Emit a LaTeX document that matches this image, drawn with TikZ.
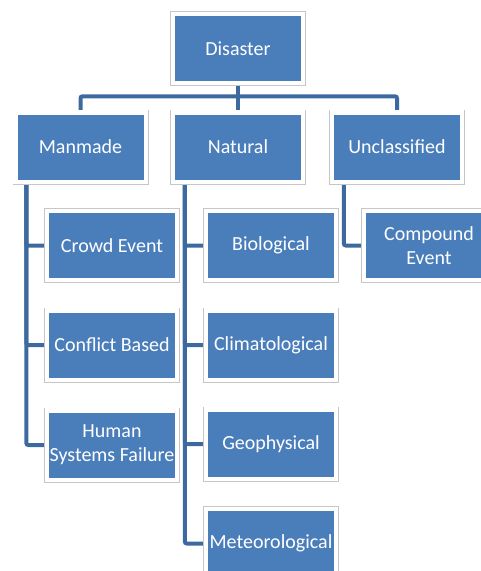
\documentclass[tikz,border=0pt]{standalone}
\usepackage{fontspec}
\setmainfont{Carlito}
\usetikzlibrary{backgrounds}
\definecolor{boxblue}{HTML}{4A7EBB}
\definecolor{linkblue}{HTML}{3D6A9E}
\definecolor{framegray}{HTML}{C6C6C6}
\tikzset{
  box/.style={rectangle, minimum width=126pt, minimum height=65pt, inner sep=0pt,
    text=white, align=center, font=\fontsize{20}{24}\selectfont,
    preaction={draw=framegray, line width=10pt},
    preaction={draw=white, line width=8.4pt},
    fill=boxblue},
  link/.style={draw=linkblue, line width=4pt, rounded corners=2pt}
}
\begin{document}
\begin{tikzpicture}[x=1pt, y=-1pt]
\useasboundingbox (0,0) rectangle (481,571);
\clip (0,0) rectangle (481,571);
\node[box] (disaster) at (238,48.5) {Disaster};
\node[box] (manmade) at (80.5,147) {Manmade};
\node[box] (natural) at (238,147) {Natural};
\node[box] (unclass) at (397,147) {Unclassified};
\node[box] (crowd) at (112,245.5) {Crowd Event};
\node[box] (conflict) at (112,345) {Conflict Based};
\node[box] (human) at (112,445) {Human\\Systems Failure};
\node[box] (bio) at (271,245.5) {Biological};
\node[box] (clim) at (271,345) {Climatological};
\node[box] (geo) at (271,444) {Geophysical};
\node[box] (meteo) at (271,543.5) {Meteorological};
\node[box] (compound) at (429,245.5) {Compound\\Event};
\begin{scope}[on background layer]
\clip (0,0) rectangle (481,571);
\draw[link] (disaster.south) -- (natural.north);
\draw[link] (manmade.north) -- ++(0,-18) -| (unclass.north);
\draw[link] ([xshift=9pt]manmade.south west) |- (crowd.west);
\draw[link] ([xshift=9pt]manmade.south west) |- (conflict.west);
\draw[link] ([xshift=9pt]manmade.south west) |- (human.west);
\draw[link] ([xshift=10pt]natural.south west) |- (bio.west);
\draw[link] ([xshift=10pt]natural.south west) |- (clim.west);
\draw[link] ([xshift=10pt]natural.south west) |- (geo.west);
\draw[link] ([xshift=10pt]natural.south west) |- (meteo.west);
\draw[link] ([xshift=10pt]unclass.south west) |- (compound.west);
\end{scope}
\end{tikzpicture}
\end{document}
